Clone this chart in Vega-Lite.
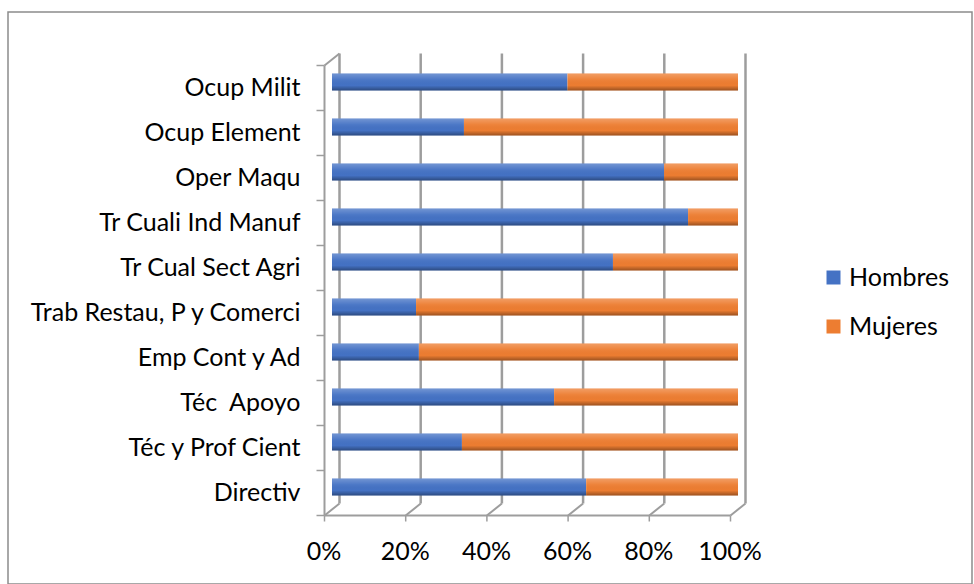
{
  "$schema": "https://vega.github.io/schema/vega-lite/v6.json",
  "width": 964,
  "height": 572,
  "autosize": "none",
  "padding": {"left": 8, "top": 12, "right": 2, "bottom": 0},
  "background": "white",
  "config": {"view": {"stroke": "#8c8c8c", "strokeWidth": 1.5}, "font": "Lato"},
  "datasets": {
    "main": [
      {"cat": "Ocup Milit", "sexo": "Hombres", "pct": 58},
      {"cat": "Ocup Milit", "sexo": "Mujeres", "pct": 42},
      {"cat": "Ocup Element", "sexo": "Hombres", "pct": 32.5},
      {"cat": "Ocup Element", "sexo": "Mujeres", "pct": 67.5},
      {"cat": "Oper Maqu", "sexo": "Hombres", "pct": 81.8},
      {"cat": "Oper Maqu", "sexo": "Mujeres", "pct": 18.2},
      {"cat": "Tr Cuali Ind Manuf", "sexo": "Hombres", "pct": 87.7},
      {"cat": "Tr Cuali Ind Manuf", "sexo": "Mujeres", "pct": 12.3},
      {"cat": "Tr Cual Sect Agri", "sexo": "Hombres", "pct": 69.2},
      {"cat": "Tr Cual Sect Agri", "sexo": "Mujeres", "pct": 30.8},
      {"cat": "Trab Restau, P y Comerci", "sexo": "Hombres", "pct": 20.7},
      {"cat": "Trab Restau, P y Comerci", "sexo": "Mujeres", "pct": 79.3},
      {"cat": "Emp Cont y Ad", "sexo": "Hombres", "pct": 21.4},
      {"cat": "Emp Cont y Ad", "sexo": "Mujeres", "pct": 78.6},
      {"cat": "Téc \u00a0Apoyo", "sexo": "Hombres", "pct": 54.7},
      {"cat": "Téc \u00a0Apoyo", "sexo": "Mujeres", "pct": 45.3},
      {"cat": "Téc y Prof Cient", "sexo": "Hombres", "pct": 32},
      {"cat": "Téc y Prof Cient", "sexo": "Mujeres", "pct": 68},
      {"cat": "Directiv", "sexo": "Hombres", "pct": 62.6},
      {"cat": "Directiv", "sexo": "Mujeres", "pct": 37.4}
    ],
    "xt": [{"v": 0}, {"v": 20}, {"v": 40}, {"v": 60}, {"v": 80}, {"v": 100}],
    "yt": [{"k": 0}, {"k": 1}, {"k": 2}, {"k": 3}, {"k": 4}, {"k": 5}, {"k": 6}, {"k": 7}, {"k": 8}, {"k": 9}, {"k": 10}],
    "one": [{}]
  },
  "resolve": {"scale": {"y": "independent"}, "axis": {"y": "independent"}},
  "layer": [
    {
      "data": {"name": "xt"},
      "mark": {"type": "rule", "color": "#9d9d9d", "strokeWidth": 2.5, "xOffset": 7.5, "yOffset": -6, "y2Offset": -6},
      "encoding": {
        "x": {"field": "v", "type": "quantitative", "scale": {"domain": [-79.803, 157.6355], "nice": false, "zero": false},
          "axis": {"orient": "bottom", "offset": -69, "values": [0, 20, 40, 60, 80, 100], "labelExpr": "datum.value + '%'", "domain": false, "ticks": false, "tickSize": 0, "grid": false, "labelPadding": 24, "labelOffset": -8.5, "labelFontSize": 25, "labelFont": "Lato", "labelColor": "#000000", "title": null, "labelFlush": false, "labelOverlap": false}},
        "y": {"datum": 0, "type": "quantitative", "scale": {"domain": [-1.055556, 11.655556], "reverse": true, "nice": false, "zero": false}, "axis": null},
        "y2": {"datum": 10}
      }
    },
    {
      "data": {"name": "xt"},
      "mark": {"type": "rule", "color": "#9d9d9d", "strokeWidth": 2, "xOffset": -7.5, "x2Offset": 7.5, "yOffset": 6, "y2Offset": -6},
      "encoding": {
        "x": {"field": "v", "type": "quantitative", "scale": {"domain": [-79.803, 157.6355], "nice": false, "zero": false},
          "axis": {"orient": "bottom", "offset": -69, "values": [0, 20, 40, 60, 80, 100], "labelExpr": "datum.value + '%'", "domain": false, "ticks": false, "tickSize": 0, "grid": false, "labelPadding": 24, "labelOffset": -8.5, "labelFontSize": 25, "labelFont": "Lato", "labelColor": "#000000", "title": null, "labelFlush": false, "labelOverlap": false}},
        "x2": {"field": "v"},
        "y": {"datum": 10, "type": "quantitative", "scale": {"domain": [-1.055556, 11.655556], "reverse": true, "nice": false, "zero": false}, "axis": null},
        "y2": {"datum": 10}
      }
    },
    {
      "data": {"name": "one"},
      "mark": {"type": "rule", "color": "#9d9d9d", "strokeWidth": 2, "xOffset": -7.5, "x2Offset": 7.5, "yOffset": 6, "y2Offset": -6},
      "encoding": {
        "x": {"datum": 0, "type": "quantitative", "scale": {"domain": [-79.803, 157.6355], "nice": false, "zero": false},
          "axis": {"orient": "bottom", "offset": -69, "values": [0, 20, 40, 60, 80, 100], "labelExpr": "datum.value + '%'", "domain": false, "ticks": false, "tickSize": 0, "grid": false, "labelPadding": 24, "labelOffset": -8.5, "labelFontSize": 25, "labelFont": "Lato", "labelColor": "#000000", "title": null, "labelFlush": false, "labelOverlap": false}},
        "x2": {"datum": 0},
        "y": {"datum": 0, "type": "quantitative", "scale": {"domain": [-1.055556, 11.655556], "reverse": true, "nice": false, "zero": false}, "axis": null},
        "y2": {"datum": 0}
      }
    },
    {
      "data": {"name": "one"},
      "mark": {"type": "rule", "color": "#9d9d9d", "strokeWidth": 2, "xOffset": -7.5, "yOffset": 6, "y2Offset": 6},
      "encoding": {
        "x": {"datum": 0, "type": "quantitative", "scale": {"domain": [-79.803, 157.6355], "nice": false, "zero": false},
          "axis": {"orient": "bottom", "offset": -69, "values": [0, 20, 40, 60, 80, 100], "labelExpr": "datum.value + '%'", "domain": false, "ticks": false, "tickSize": 0, "grid": false, "labelPadding": 24, "labelOffset": -8.5, "labelFontSize": 25, "labelFont": "Lato", "labelColor": "#000000", "title": null, "labelFlush": false, "labelOverlap": false}},
        "y": {"datum": 0, "type": "quantitative", "scale": {"domain": [-1.055556, 11.655556], "reverse": true, "nice": false, "zero": false}, "axis": null},
        "y2": {"datum": 10}
      }
    },
    {
      "data": {"name": "yt"},
      "mark": {"type": "rule", "color": "#9d9d9d", "strokeWidth": 1.5, "xOffset": -15.5, "x2Offset": -7.5, "yOffset": 6},
      "encoding": {
        "x": {"datum": 0, "type": "quantitative", "scale": {"domain": [-79.803, 157.6355], "nice": false, "zero": false},
          "axis": {"orient": "bottom", "offset": -69, "values": [0, 20, 40, 60, 80, 100], "labelExpr": "datum.value + '%'", "domain": false, "ticks": false, "tickSize": 0, "grid": false, "labelPadding": 24, "labelOffset": -8.5, "labelFontSize": 25, "labelFont": "Lato", "labelColor": "#000000", "title": null, "labelFlush": false, "labelOverlap": false}},
        "x2": {"datum": 0},
        "y": {"field": "k", "type": "quantitative", "scale": {"domain": [-1.055556, 11.655556], "reverse": true, "nice": false, "zero": false}, "axis": null}
      }
    },
    {
      "data": {"name": "one"},
      "mark": {"type": "rule", "color": "#9d9d9d", "strokeWidth": 2, "xOffset": -7.5, "x2Offset": -7.5, "yOffset": 6},
      "encoding": {
        "x": {"datum": 0, "type": "quantitative", "scale": {"domain": [-79.803, 157.6355], "nice": false, "zero": false},
          "axis": {"orient": "bottom", "offset": -69, "values": [0, 20, 40, 60, 80, 100], "labelExpr": "datum.value + '%'", "domain": false, "ticks": false, "tickSize": 0, "grid": false, "labelPadding": 24, "labelOffset": -8.5, "labelFontSize": 25, "labelFont": "Lato", "labelColor": "#000000", "title": null, "labelFlush": false, "labelOverlap": false}},
        "x2": {"datum": 100},
        "y": {"datum": 10, "type": "quantitative", "scale": {"domain": [-1.055556, 11.655556], "reverse": true, "nice": false, "zero": false}, "axis": null}
      }
    },
    {
      "data": {"name": "xt"},
      "mark": {"type": "rule", "color": "#9d9d9d", "strokeWidth": 1.5, "xOffset": -7.5, "yOffset": 6, "y2Offset": 12},
      "encoding": {
        "x": {"field": "v", "type": "quantitative", "scale": {"domain": [-79.803, 157.6355], "nice": false, "zero": false},
          "axis": {"orient": "bottom", "offset": -69, "values": [0, 20, 40, 60, 80, 100], "labelExpr": "datum.value + '%'", "domain": false, "ticks": false, "tickSize": 0, "grid": false, "labelPadding": 24, "labelOffset": -8.5, "labelFontSize": 25, "labelFont": "Lato", "labelColor": "#000000", "title": null, "labelFlush": false, "labelOverlap": false}},
        "y": {"datum": 10, "type": "quantitative", "scale": {"domain": [-1.055556, 11.655556], "reverse": true, "nice": false, "zero": false}, "axis": null},
        "y2": {"datum": 10}
      }
    },
    {
      "data": {"name": "main"},
      "mark": {"type": "bar", "size": 17},
      "encoding": {
        "y": {
          "field": "cat", "type": "nominal", "sort": null,
          "scale": {"domain": ["Ocup Milit", "Ocup Element", "Oper Maqu", "Tr Cuali Ind Manuf", "Tr Cual Sect Agri", "Trab Restau, P y Comerci", "Emp Cont y Ad", "Téc \u00a0Apoyo", "Téc y Prof Cient", "Directiv"], "range": [47.5, 497.5], "paddingInner": 0, "paddingOuter": 0, "round": false},
          "axis": {"orient": "left", "offset": -292, "domain": false, "ticks": false, "tickSize": 0, "labelPadding": 0, "labelOffset": 6, "labelFontSize": 25, "labelFont": "Lato", "labelColor": "#000000", "title": null, "labelLimit": 0, "grid": false}
        },
        "x": {
          "field": "pct", "type": "quantitative", "stack": "zero",
          "scale": {"domain": [-79.803, 157.6355], "nice": false, "zero": false},
          "axis": {"orient": "bottom", "offset": -69, "values": [0, 20, 40, 60, 80, 100], "labelExpr": "datum.value + '%'", "domain": false, "ticks": false, "tickSize": 0, "grid": false, "labelPadding": 24, "labelOffset": -8.5, "labelFontSize": 25, "labelFont": "Lato", "labelColor": "#000000", "title": null, "labelFlush": false, "labelOverlap": false}
        },
        "color": {
          "field": "sexo", "type": "nominal",
          "scale": {"domain": ["Hombres", "Mujeres"], "range": ["#4472C4", "#ED7D31"]},
          "legend": {"title": null, "orient": "none", "legendX": 813, "legendY": 253, "symbolType": "square", "symbolSize": 196, "symbolStrokeWidth": 0, "labelFontSize": 25, "labelFont": "Lato", "labelColor": "#000000", "labelOffset": 3, "rowPadding": 23, "padding": 0}
        }
      }
    },
    {
      "data": {"name": "main"},
      "transform": [{"filter": "datum.sexo == 'Hombres'"}],
      "mark": {"type": "bar", "size": 17, "fill": {"gradient": "linear", "x1": 0, "y1": 0, "x2": 0, "y2": 1, "stops": [{"offset": 0, "color": "rgba(255,255,255,0.25)"}, {"offset": 0.35, "color": "rgba(255,255,255,0.05)"}, {"offset": 0.7, "color": "rgba(0,0,0,0)"}, {"offset": 1, "color": "rgba(0,0,0,0.35)"}]}},
      "encoding": {
        "y": {
          "field": "cat", "type": "nominal", "sort": null,
          "scale": {"domain": ["Ocup Milit", "Ocup Element", "Oper Maqu", "Tr Cuali Ind Manuf", "Tr Cual Sect Agri", "Trab Restau, P y Comerci", "Emp Cont y Ad", "Téc \u00a0Apoyo", "Téc y Prof Cient", "Directiv"], "range": [47.5, 497.5], "paddingInner": 0, "paddingOuter": 0, "round": false},
          "axis": null
        },
        "x": {"datum": 0, "type": "quantitative", "scale": {"domain": [-79.803, 157.6355], "nice": false, "zero": false},
          "axis": {"orient": "bottom", "offset": -69, "values": [0, 20, 40, 60, 80, 100], "labelExpr": "datum.value + '%'", "domain": false, "ticks": false, "tickSize": 0, "grid": false, "labelPadding": 24, "labelOffset": -8.5, "labelFontSize": 25, "labelFont": "Lato", "labelColor": "#000000", "title": null, "labelFlush": false, "labelOverlap": false}},
        "x2": {"datum": 100}
      }
    }
  ]
}
